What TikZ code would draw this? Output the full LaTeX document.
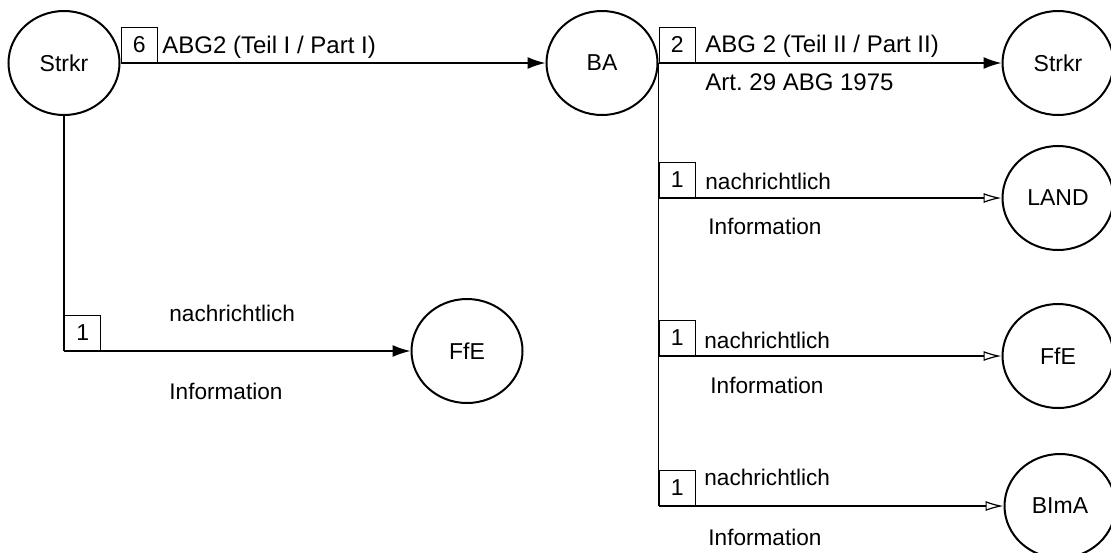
\documentclass[tikz,border=0pt]{standalone}
\usepackage{fontspec}
\setmainfont{Liberation Sans}
\usepackage{tikz}
\usetikzlibrary{arrows.meta,shapes.geometric}
\frenchspacing
\tikzset{
    inst/.style={draw,ellipse,line width=1pt,minimum width=55.5pt,minimum height=52pt,inner sep=0pt,font=\fontsize{11.5}{13.5}\selectfont},
    numbox/.style={draw,line width=0.7pt,minimum width=18pt,minimum height=17.5pt,inner sep=0pt,anchor=south west,font=\fontsize{11.5}{13.5}\selectfont},
    lbl/.style={anchor=base west,inner sep=0pt,font=\fontsize{11.3}{13.5}\selectfont},
    toplbl/.style={lbl,font=\fontsize{12}{14}\selectfont},
    trunk/.style={line width=0.75pt},
    flow/.style={line width=0.75pt,-{Latex[length=9pt,width=6pt]}},
    info/.style={line width=0.6pt,-{Latex[open,length=9pt,width=5pt]}}
}

\begin{document}
\begin{tikzpicture}[x=0.5pt,y=-0.5pt]
    \useasboundingbox (0,0) rectangle (1111,552);
    % Stellen
    \node[inst] (strkrA) at (64,63) {Strkr};
    \node[inst] (ba) at (602,63) {BA};
    \node[inst] (ffeA) at (467,351) {FfE};
    \node[inst] (strkrB) at (1058,63) {Strkr};
    \node[inst] (land) at (1058,198) {LAND};
    \node[inst] (ffeB) at (1058,356) {FfE};
    \node[inst] (bima) at (1060,506) {BImA};
    % Strkr -> BA
    \draw[flow] (strkrA.east) -- (ba.west);
    \node[numbox] (nSix) at (strkrA.east) {6};
    \node[toplbl] (lblAbgA) at (162,53) {ABG2 (Teil I / Part I)};
    % Strkr -> FfE
    \coordinate (kLeft) at (strkrA.south |- ffeA.west);
    \draw[trunk] (strkrA.south) -- (kLeft);
    \draw[flow] (kLeft) -- (ffeA.west);
    \node[numbox] (nOneL) at (kLeft) {1};
    \node[lbl] (lblNachL) at (169,321) {nachrichtlich};
    \node[lbl] (lblInfoL) at (169,399) {Information};
    % BA -> Verteiler
    \draw[trunk] (ba.east) -- (ba.east |- bima.west);
    \draw[flow] (ba.east) -- (strkrB.west);
    \draw[info] (ba.east |- land.west) -- (land.west);
    \draw[info] (ba.east |- ffeB.west) -- (ffeB.west);
    \draw[info] (ba.east |- bima.west) -- (bima.west);
    \node[numbox] (nTwo) at (ba.east) {2};
    \node[numbox] (nOneA) at (ba.east |- land.west) {1};
    \node[numbox] (nOneB) at (ba.east |- ffeB.west) {1};
    \node[numbox] (nOneC) at (ba.east |- bima.west) {1};
    \node[toplbl] (lblAbgB) at (705,52) {ABG 2 (Teil II / Part II)};
    \node[toplbl] (lblArt) at (705,90) {Art. 29 ABG 1975};
    \node[lbl] (lblNachA) at (705,189) {nachrichtlich};
    \node[lbl] (lblInfoA) at (708,234) {Information};
    \node[lbl] (lblNachB) at (704,348) {nachrichtlich};
    \node[lbl] (lblInfoB) at (710,393) {Information};
    \node[lbl] (lblNachC) at (704,485) {nachrichtlich};
    \node[lbl] (lblInfoC) at (708,545) {Information};
\end{tikzpicture}
\end{document}
